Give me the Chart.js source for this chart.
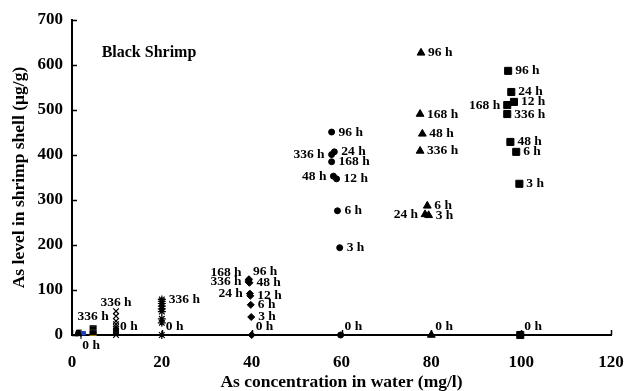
<!DOCTYPE html>
<html>
<head>
<meta charset="utf-8">
<script src="https://cdn.jsdelivr.net/npm/chart.js@4"></script>
<style>
  html, body { margin: 0; padding: 0; background: #fff; }
  #wrap { width: 624px; height: 391px; }
</style>
</head>
<body>
<div id="wrap"><canvas id="c"></canvas></div>
<script>
// exposure times, in the same order for every series
const hours = ['0 h', '3 h', '6 h', '12 h', '24 h', '48 h', '96 h', '168 h', '336 h'];

// 100 mg/l (squares)
const sqX = [99.8, 99.6, 98.9, 98.4, 97.8, 97.6, 97.1, 96.9, 96.9];
const sqY = [0, 336, 407, 518, 540, 429, 587, 511, 491];
const sqSide = ['ru', 'r', 'r', 'r', 'r', 'r', 'r', 'l', 'r'];

// 80 mg/l (triangles), 12 h not visible
const triX = [80, 79.4, 79.1, null, 78.6, 78.0, 77.7, 77.5, 77.5];
const triY = [0, 266, 287, null, 268, 447, 627, 491, 409];
const triSide = ['ru', 'r', 'r', '', 'l', 'r', 'r', 'r', 'r'];

// 60 mg/l (circles)
const cirX = [59.8, 59.6, 59.1, 58.9, 58.4, 58.2, 57.8, 57.8, 57.8];
const cirY = [0, 194, 276, 347, 407, 353, 451, 385, 401];
const cirSide = ['ru', 'r', 'r', 'r', 'r', 'l', 'r', 'r', 'l'];

// 40 mg/l (diamonds)
const diaX = [40, 39.9, 39.8, 39.7, 39.6, 39.5, 39.4, 39.3, 39.3];
const diaY = [0, 40, 67, 87, 92, 116, 124, 122, 118];
const diaSide = ['ru', 'r', 'r', 'r', 'l', 'r', 'ru', 'lu', 'l'];

// 20 mg/l (stars)
const starX = [20, 20, 20, 20, 20, 20, 20, 20, 20];
const starY = [0, 27, 36, 52, 58, 64, 70, 75, 79];
const starSide = ['ru', '', '', '', '', '', '', '', 'r'];

// 10 mg/l (crosses)
const crX = [9.8, 9.8, 9.8, 9.8, 9.8, 9.8, 9.8, 9.8, 9.8];
const crY = [0, 5, 9, 13, 18, 24, 31, 42, 53];
const crSide = ['ru', '', '', '', '', '', '', '', 't'];

// 5 mg/l (dashes)
const dashX = [4.7, 4.7, 4.7, 4.7, 4.7, 4.7, 4.7, 4.7, 4.7];
const dashY = [0, 2, 4, 6, 8, 11, 14, 17, 20];
const dashSide = ['b', '', '', '', '', '', '', '', 't'];

// ~2 mg/l (small marks, unlabelled)
const lowX = [1.2, 1.3, 1.4, 2.0, 2.0, 2.6];
const lowY = [2, 5, 7, 0, 4, 4];

const xTicks = [0, 20, 40, 60, 80, 100, 120];
const yTicks = [0, 100, 200, 300, 400, 500, 600, 700];

function pts(xs, ys) {
  return xs.map((x, i) => (x === null ? null : { x: x, y: ys[i] })).filter(p => p);
}
function lbls(xs, sides) {
  return xs.map((x, i) => (x === null ? null : { t: hours[i], s: sides[i] })).filter(p => p);
}

const serif = "'Liberation Serif', 'Times New Roman', serif";

const labelPlugin = {
  id: 'pointLabels',
  afterDatasetsDraw(chart) {
    const ctx = chart.ctx;
    ctx.save();
    ctx.fillStyle = '#000';
    ctx.font = 'bold 13.5px ' + serif;
    ctx.textBaseline = 'middle';
    chart.data.datasets.forEach((ds, di) => {
      if (!ds.labels) return;
      const meta = chart.getDatasetMeta(di);
      ds.labels.forEach((l, i) => {
        if (!l.s) return;
        const el = meta.data[i];
        let x = el.x, y = el.y;
        if (l.s === 'r') { ctx.textAlign = 'left'; x += 7; }
        else if (l.s === 'l') { ctx.textAlign = 'right'; x -= 7; }
        else if (l.s === 'ru') { ctx.textAlign = 'left'; x += 4; y -= 8; }
        else if (l.s === 'lu') { ctx.textAlign = 'right'; x -= 7; y -= 8; }
        else if (l.s === 't') { ctx.textAlign = 'center'; y -= 9; }
        else if (l.s === 'b') { ctx.textAlign = 'center'; x -= 2; y += 11; }
        ctx.fillText(l.t, x, y);
      });
    });
    // inward tick marks
    const xs = chart.scales.x, ys = chart.scales.y;
    ctx.strokeStyle = '#000';
    ctx.lineWidth = 1.5;
    ctx.beginPath();
    xTicks.forEach(v => {
      const px = Math.round(xs.getPixelForValue(v)) + 0.5;
      ctx.moveTo(px, ys.bottom);
      ctx.lineTo(px, ys.bottom - 5);
    });
    yTicks.forEach(v => {
      const py = Math.round(ys.getPixelForValue(v)) + 0.5;
      ctx.moveTo(xs.left, py);
      ctx.lineTo(xs.left + 5, py);
    });
    ctx.stroke();
    // panel label
    ctx.font = 'bold 16px ' + serif;
    ctx.textAlign = 'left';
    ctx.fillText('Black Shrimp', xs.getPixelForValue(6.6), ys.getPixelForValue(627));
    ctx.restore();
  }
};

function ds(xs, ys, sides, style, r, extra) {
  return Object.assign({
    data: pts(xs, ys),
    labels: sides ? lbls(xs, sides) : null,
    pointStyle: style,
    pointRadius: r,
    backgroundColor: '#000',
    borderColor: '#000',
    borderWidth: 1,
    showLine: false,
    clip: false
  }, extra || {});
}

new Chart(document.getElementById('c'), {
  type: 'scatter',
  data: {
    datasets: [
      ds(sqX, sqY, sqSide, 'rect', 5),
      ds(triX, triY, triSide, 'triangle', 4.5),
      ds(cirX, cirY, cirSide, 'circle', 3),
      ds(diaX, diaY, diaSide, 'rectRot', 3.5),
      ds(starX, starY, starSide, 'star', 4, { borderWidth: 1.2 }),
      ds(crX, crY, crSide, 'crossRot', 4, { borderWidth: 1.2 }),
      ds(dashX, dashY, dashSide, 'line', 3.5, { borderWidth: 1.6,
        borderColor: ['#c9a000', '#000', '#000', '#000', '#000', '#000', '#000', '#000', '#000'] }),
      ds(lowX, lowY, null, 'rect', 3, {
        pointStyle: ['rect', 'rect', 'rect', 'cross', 'cross', 'rect'],
        backgroundColor: ['#000', '#000', '#000', '#000', '#000', '#2040c0'],
        borderColor: ['#000', '#000', '#000', '#000', '#000', '#2040c0'],
        pointRadius: [2.5, 2.5, 2.5, 4, 4, 2.5] })
    ]
  },
  options: {
    responsive: true,
    maintainAspectRatio: false,
    animation: false,
    events: [],
    layout: { padding: { top: 20, right: 0, left: 0, bottom: 0 } },
    plugins: { legend: { display: false }, tooltip: { enabled: false } },
    scales: {
      x: {
        type: 'linear',
        min: 0, max: 120,
        afterBuildTicks: s => { s.ticks = xTicks.map(v => ({ value: v })); },
        afterFit: s => { s.height = 56; s.paddingRight = 13; s.paddingLeft = 0; },
        grid: { display: false, drawTicks: false },
        border: { display: true, color: '#000', width: 2 },
        ticks: { color: '#000', padding: 17, font: { family: serif, size: 17, weight: 'bold' } },
        title: {
          display: true, text: 'As concentration in water (mg/l)', color: '#000',
          padding: { top: 0, bottom: 0 },
          font: { family: serif, size: 17.5, weight: 'bold', lineHeight: 1 }
        }
      },
      y: {
        type: 'linear',
        min: 0, max: 700,
        afterBuildTicks: s => { s.ticks = yTicks.map(v => ({ value: v })); },
        afterFit: s => { s.width = 72; },
        grid: { display: false, drawTicks: false },
        border: { display: true, color: '#000', width: 2 },
        ticks: { color: '#000', padding: 9, font: { family: serif, size: 17, weight: 'bold' } },
        title: {
          display: true, text: 'As level in shrimp shell (µg/g)', color: '#000',
          padding: { top: 11, bottom: 0 },
          font: { family: serif, size: 17.5, weight: 'bold', lineHeight: 1 }
        }
      }
    }
  },
  plugins: [labelPlugin]
});
</script>
</body>
</html>
